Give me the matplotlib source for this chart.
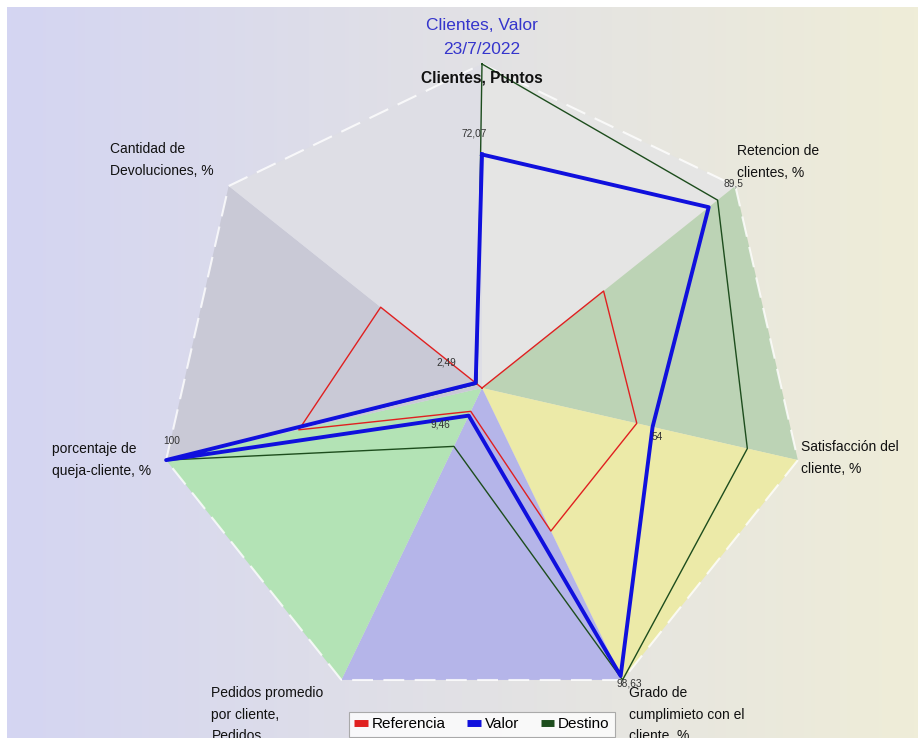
import numpy as np
import matplotlib.pyplot as plt
from matplotlib.lines import Line2D

plt.rcParams['font.family'] = ['Liberation Sans', 'DejaVu Sans']

# ---- data ----
axis_labels = ['Clientes, Puntos', 'Retencion de\nclientes, %', 'Satisfacción del\ncliente, %',
               'Grado de\ncumplimieto con el\ncliente, %', 'Pedidos promedio\npor cliente,\nPedidos',
               'porcentaje de\nqueja-cliente, %', 'Cantidad de\nDevoluciones, %']
referencia = [0, 48, 49, 49, 8, 58, 40]
valor = [72.07, 89.5, 54, 98.63, 9.46, 100, 2.49]
destino = [100, 93, 84, 100, 20, 100, 2]
valor_text = ['72,07', '89,5', '54', '98,63', '9,46', '100', '2,49']
sector_colors = ['#e5e5e4', '#bcd3b5', '#eceaa8', '#b5b5e9', '#b3e3b5', '#c9c9d6', '#dedee5']

# label placement (pixels offset from the point)
value_offsets = [(-8, 21), (25, 24), (5, -10), (9, -8), (-28, -9), (6, 19), (-29, 20)]
label_offsets = [(0, -14, 'center', 'center'), (2, 24, 'left', 'center'), (3, 2, 'left', 'center'),
                 (6, -6, 'left', 'top'), (-130, -6, 'left', 'top'), (-114, 0, 'left', 'center'),
                 (-119, 26, 'left', 'center')]

W, H = 918, 738
fig = plt.figure(figsize=(W / 100, H / 100), dpi=100, facecolor='white')

# background gradient (lavender -> beige), white strip on top/left
bg = fig.add_axes([7 / W, 0, (W - 7) / W, (H - 7) / H])
left_c = np.array([212, 213, 242]) / 255
right_c = np.array([239, 237, 216]) / 255
t = np.linspace(0, 1, 256)[None, :, None]
grad = left_c * (1 - t) + right_c * t
bg.imshow(grad, aspect='auto', extent=[0, 1, 0, 1])
bg.set_axis_off()

# radar axes
cx, cy, R = 482, 388, 324
ax = fig.add_axes([(cx - R) / W, (H - cy - R) / H, 2 * R / W, 2 * R / H], projection='polar')
ax.set_theta_zero_location('N')
ax.set_theta_direction(-1)
ax.set_ylim(0, 100)
ax.set_axis_off()

n = len(axis_labels)
theta = np.arange(n) * 2 * np.pi / n

# coloured sectors
for i in range(n):
    j = (i + 1) % n
    ax.fill([theta[i], theta[i], theta[j]], [0, 100, 100], color=sector_colors[i],
            linewidth=0, clip_on=False, zorder=1)
    ax.plot([theta[i], theta[j]], [100, 100], color='white', lw=1.5, alpha=0.8,
            dashes=(10, 5), clip_on=False, zorder=2)

def closed(v):
    return np.append(theta, theta[0]), np.append(v, v[0])

ax.plot(*closed(destino), color='#1d4d1d', lw=1.0, clip_on=False, zorder=3)
ax.plot(*closed(referencia), color='#e02020', lw=1.0, clip_on=False, zorder=4)
ax.plot(*closed(valor), color='#1010dd', lw=2.8, clip_on=False, zorder=5)

for th, v, txt, off in zip(theta, valor, valor_text, value_offsets):
    ax.annotate(txt, xy=(th, v), xytext=off, textcoords='offset pixels',
                ha='center', va='center', fontsize=7.3, color='#333333', zorder=6,
                annotation_clip=False)

for k, (th, lab, off) in enumerate(zip(theta, axis_labels, label_offsets)):
    ax.annotate(lab, xy=(th, 100), xytext=off[:2], textcoords='offset pixels',
                ha=off[2], va=off[3], fontsize=11.2 if k == 0 else 10,
                fontweight='bold' if k == 0 else 'normal', color='#111111',
                linespacing=1.7, zorder=7, annotation_clip=False)

fig.text(cx / W, 1 - 25 / H, 'Clientes, Valor', ha='center', va='center',
         fontsize=12.5, color='#3535cc')
fig.text(cx / W, 1 - 50 / H, '23/7/2022', ha='center', va='center',
         fontsize=12.5, color='#3535cc')

handles = [Line2D([], [], color='#e02020', lw=5, solid_capstyle='butt'),
           Line2D([], [], color='#1010dd', lw=5, solid_capstyle='butt'),
           Line2D([], [], color='#1d4d1d', lw=5, solid_capstyle='butt')]
leg = fig.legend(handles, ['Referencia', 'Valor', 'Destino'], loc='upper center',
                 bbox_to_anchor=(cx / W, 26 / H), ncol=3, frameon=True, fancybox=False,
                 edgecolor='#999999', handlelength=0.9, handletextpad=0.25,
                 columnspacing=1.4, fontsize=11, borderpad=0.35, borderaxespad=0)
leg.get_frame().set_linewidth(0.8)

fig.savefig('out.png', dpi=100, facecolor='white')
